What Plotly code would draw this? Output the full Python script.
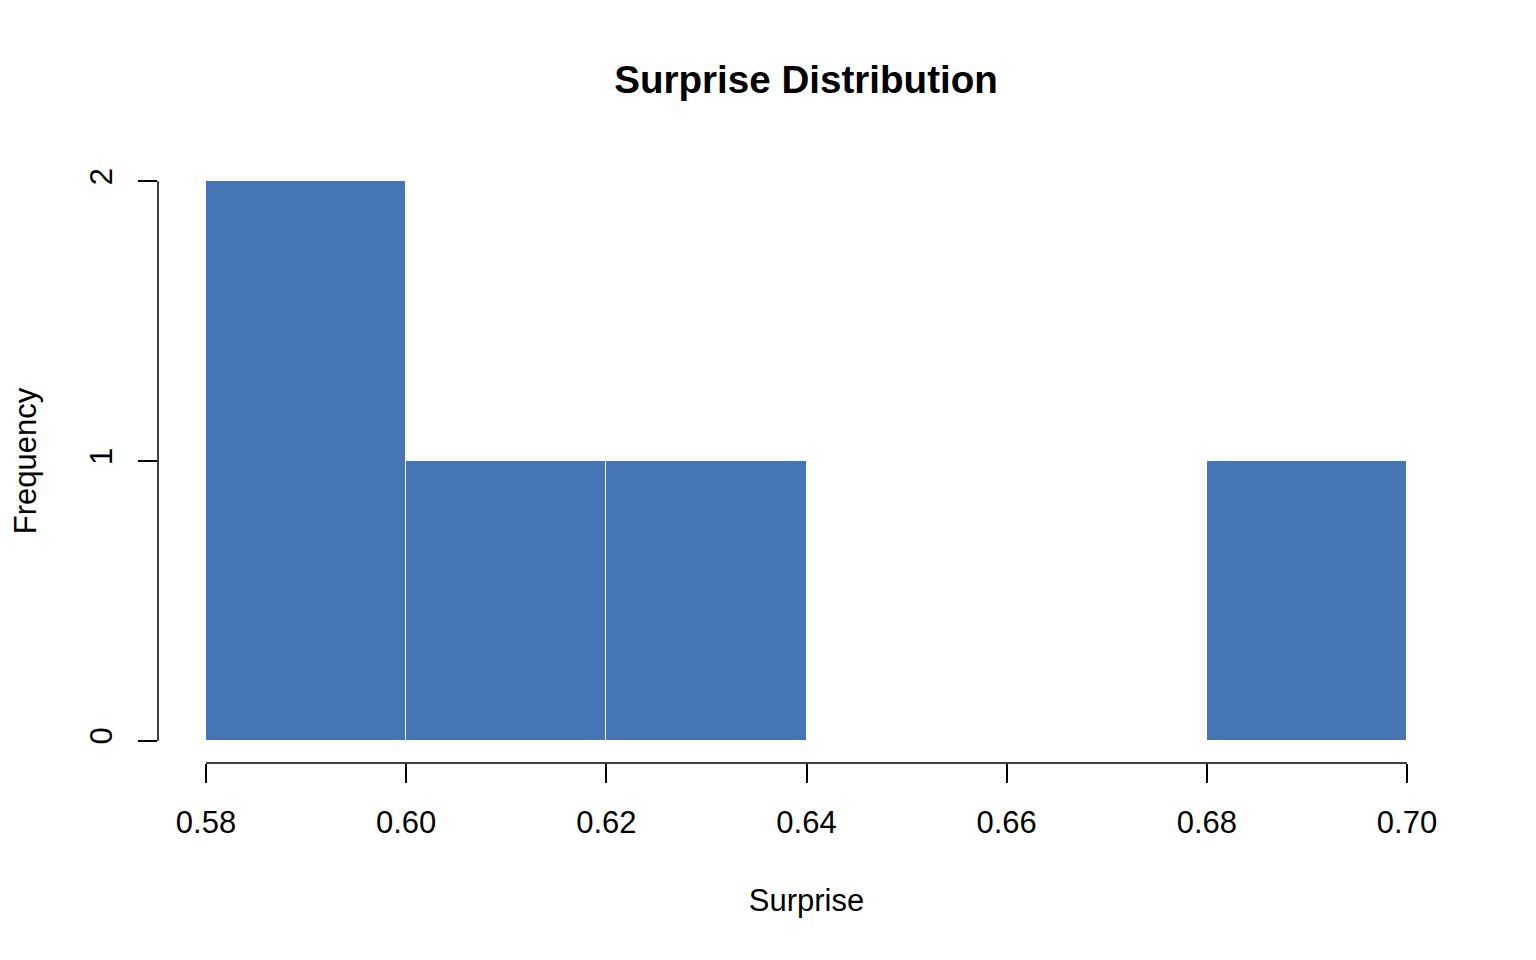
import plotly.graph_objects as go

# histogram bins (breaks) and counts
bin_edges = [0.58, 0.60, 0.62, 0.64, 0.66, 0.68, 0.70]
counts = [2, 1, 1, 0, 0, 1]
x_ticks = [0.58, 0.60, 0.62, 0.64, 0.66, 0.68, 0.70]
x_tick_labels = ["0.58", "0.60", "0.62", "0.64", "0.66", "0.68", "0.70"]
y_ticks = [0, 1, 2]

centers = [(a + b) / 2 for a, b in zip(bin_edges[:-1], bin_edges[1:])]
widths = [b - a for a, b in zip(bin_edges[:-1], bin_edges[1:])]

FONT = "Liberation Sans, Arial, Helvetica, sans-serif"
W, H = 1520, 944  # page body has an 8px margin
axis_font = dict(family=FONT, size=31, color="black")

fig = go.Figure()
fig.add_trace(go.Bar(x=centers, y=counts, width=widths,
                     marker=dict(color="#4575B4", line=dict(color="white", width=1)),
                     showlegend=False))

# R-style padding of 4% on each side
xr = x_ticks[-1] - x_ticks[0]
yr = max(y_ticks) - min(y_ticks)

# axis lines only across the tick range, like base R
fig.add_shape(type="line", xref="x", yref="paper", x0=x_ticks[0], x1=x_ticks[-1],
              y0=0, y1=0, line=dict(color="black", width=1.5))
fig.add_shape(type="line", xref="paper", yref="y", x0=0, x1=0,
              y0=min(y_ticks), y1=max(y_ticks), line=dict(color="black", width=1.5))

fig.update_layout(
    width=W, height=H,
    paper_bgcolor="white", plot_bgcolor="white",
    margin=dict(l=150, r=73, t=151, b=189),
    font=dict(family=FONT, size=31, color="black"),
    title=dict(text="<b>Surprise Distribution</b>", x=798 / W, xanchor="center",
               y=1 - 71 / H, yanchor="middle", font=dict(family=FONT, size=38.6)),
    bargap=0,
)
fig.update_xaxes(range=[x_ticks[0] - 0.04 * xr, x_ticks[-1] + 0.04 * xr],
                 tickvals=x_ticks, ticktext=x_tick_labels, automargin=False,
                 tickfont=axis_font,
                 ticks="outside", ticklen=19, tickwidth=1.5, tickcolor="black",
                 ticklabelstandoff=13, showgrid=False, zeroline=False, showline=False,
                 title=dict(text="Surprise", standoff=50, font=axis_font))
fig.update_yaxes(range=[min(y_ticks) - 0.04 * yr, max(y_ticks) + 0.04 * yr],
                 tickvals=y_ticks, tickangle=-90, automargin=False,
                 tickfont=axis_font,
                 ticks="outside", ticklen=19, tickwidth=1.5, tickcolor="black",
                 ticklabelstandoff=14, showgrid=False, zeroline=False, showline=False,
                 title=dict(text="Frequency", standoff=44, font=axis_font))

fig.write_html("out.html")
